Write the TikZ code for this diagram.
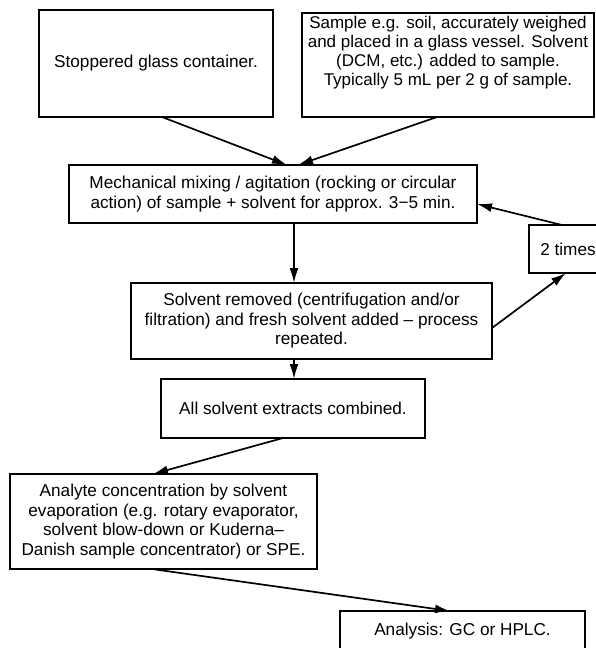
\documentclass[tikz,border=0pt]{standalone}
\usepackage{fontspec}
\setmainfont{Liberation Sans}
\usetikzlibrary{arrows.meta,calc}
\begin{document}
\begin{tikzpicture}[x=1pt,y=-1pt,
  box/.style={draw, line width=2pt, inner sep=0pt, outer sep=0pt, align=center,
              font=\fontsize{17.2}{19.5}\selectfont},
  txt/.style={inner sep=0pt, align=center, font=\fontsize{17}{19}\selectfont},
  flow/.style={line width=1.7pt, -{Latex[length=15pt,width=9pt]}}]
\useasboundingbox (0,0) rectangle (596,648);
\clip (0,0) rectangle (596,648);

% process boxes
\node[box, minimum width=234, minimum height=107] (b1) at (156,63.5) {Stoppered glass container.};
\node[box, minimum width=292, minimum height=104] (b2) at (448,65) {};
\node[txt] (b2t) at (448,53) {Sample e.g. soil, accurately weighed\\and placed in a glass vessel. Solvent\\(DCM, etc.) added to sample.\\Typically 5 mL per 2 g of sample.};
\node[box, minimum width=408, minimum height=58] (mix) at (273,194)
  {Mechanical mixing / agitation (rocking or circular\\action) of sample + solvent for approx. 3−5 min.};
\node[box, minimum width=361, minimum height=76] (sol) at (311.5,321)
  {Solvent removed (centrifugation and/or\\filtration) and fresh solvent added – process\\repeated.};
\node[box, minimum width=78, minimum height=48] (times) at (568,249) {2 times};
\node[box, minimum width=264, minimum height=59] (all) at (293,408.5) {All solvent extracts combined.};
\node[box, minimum width=307, minimum height=95] (ana) at (163.5,521.5)
  {Analyte concentration by solvent\\evaporation (e.g. rotary evaporator,\\solvent blow-down or Kuderna–\\Danish sample concentrator) or SPE.};
\node[box, minimum width=245, minimum height=40] (anal) at (462.5,631) {Analysis: GC or HPLC.};

% connectors
\draw[flow] ($(b1.south west)+(123,0)$) -- ($(mix.north west)+(218,0)$);
\draw[flow] ($(b2.south west)+(135,0)$) -- ($(mix.north west)+(229,0)$);
\draw[flow] ($(mix.south west)+(225,0)$) -- ($(sol.north west)+(163,0)$);
\draw[flow] ($(sol.north east)+(0,45)$) -- ($(times.south west)+(37,0)$);
\draw[flow] ($(times.north west)+(33,0)$) -- ($(mix.north east)+(0,39)$);
\draw[flow] ($(sol.south west)+(163,0)$) -- ($(all.north west)+(133,0)$);
\draw[flow] ($(all.south west)+(122,0)$) -- ($(ana.north west)+(143,0)$);
\draw[flow] ($(ana.south west)+(142,0)$) -- ($(anal.north west)+(110,0)$);
\end{tikzpicture}
\end{document}
